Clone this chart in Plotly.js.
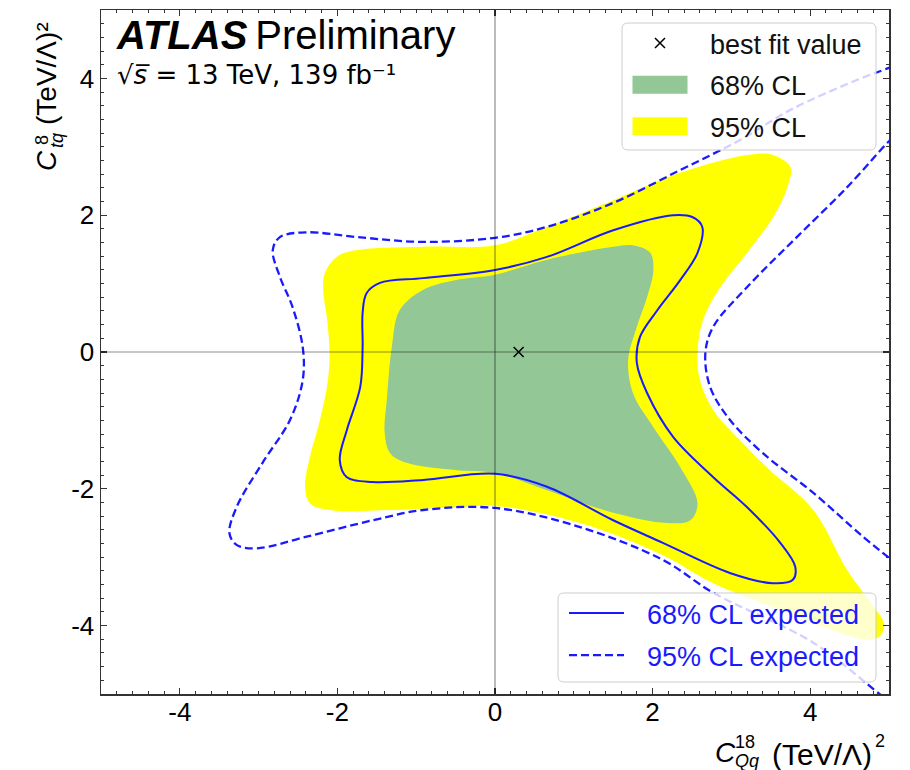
<!DOCTYPE html>
<html>
<head>
<meta charset="utf-8">
<script src="https://cdn.plot.ly/plotly-3.0.1.min.js"></script>
<style>html,body{margin:0;padding:0;background:#fff;}</style>
</head>
<body>
<div id="chart" style="width:910px;height:770px;"></div>
<script>
// ---- data ----
var xTickVals = [-4, -2, 0, 2, 4];
var xTickText = ['-4', '-2', '0', '2', '4'];
var yTickVals = [-4, -2, 0, 2, 4];
var yTickText = ['-4', '-2', '0', '2', '4'];

// 95% CL observed (yellow)
var obs95_x = [0, 0.66, 1.50, 2.35, 3.20, 3.53, 3.75, 3.71, 3.53, 3.20, 2.86, 2.64, 2.57, 2.60, 2.77, 3.11, 3.49, 4.04, 4.47, 4.79, 4.94, 4.89, 4.74, 4.38, 3.62, 2.77, 2.13, 1.08, 0, -0.48, -1.33, -2.10, -2.35, -2.41, -2.35, -2.22, -2.12, -2.10, -2.13, -2.18, -2.16, -2.01, -1.75, -0.91, 0];
var obs95_y = [1.56, 1.83, 2.22, 2.62, 2.88, 2.88, 2.70, 2.41, 1.97, 1.45, 0.95, 0.47, -0.01, -0.41, -0.85, -1.29, -1.73, -2.31, -3.19, -3.70, -3.98, -4.15, -4.21, -4.11, -3.77, -3.38, -2.97, -2.50, -2.25, -2.27, -2.31, -2.31, -2.21, -1.97, -1.54, -0.99, -0.41, -0.01, 0.47, 0.91, 1.15, 1.39, 1.49, 1.54, 1.56];

// 68% CL observed (green)
var obs68_x = [0, 0.66, 1.50, 1.75, 1.97, 2.01, 1.93, 1.80, 1.69, 1.75, 2.01, 2.35, 2.57, 2.48, 2.18, 1.50, 0.66, 0, -0.48, -1.12, -1.33, -1.40, -1.37, -1.31, -1.21, -0.91, -0.51, 0];
var obs68_y = [1.13, 1.35, 1.54, 1.56, 1.45, 1.20, 0.80, 0.37, -0.12, -0.60, -1.10, -1.68, -2.21, -2.46, -2.50, -2.35, -2.02, -1.77, -1.73, -1.62, -1.48, -1.18, -0.66, 0.07, 0.61, 0.91, 1.05, 1.13];

// 68% CL expected (solid blue)
var exp68_x = [0, 0.66, 1.50, 2.26, 2.51, 2.63, 2.57, 2.35, 2.06, 1.84, 1.80, 1.93, 2.26, 2.77, 3.20, 3.62, 3.81, 3.78, 3.53, 2.98, 2.13, 1.50, 0.66, 0, -0.91, -1.55, -1.88, -1.97, -1.88, -1.71, -1.68, -1.68, -1.63, -1.46, -0.91, 0];
var exp68_y = [1.20, 1.39, 1.78, 2.00, 1.97, 1.83, 1.45, 1.05, 0.61, 0.22, -0.16, -0.60, -1.24, -1.83, -2.27, -2.79, -3.14, -3.33, -3.38, -3.23, -2.79, -2.46, -1.97, -1.78, -1.87, -1.90, -1.83, -1.58, -1.14, -0.51, 0.07, 0.57, 0.86, 1.01, 1.08, 1.20];

// 95% CL expected (dashed blue), two visible pieces
var exp95_x = [5.05, 4.89, 4.04, 2.77, 2.13, 1.08, 0, -0.91, -1.55, -2.39, -3.02, -3.28, -3.37, -3.28, -2.95, -2.60, -2.44, -2.44, -2.57, -2.73, -2.82, -2.73, -2.39, -1.75, -0.91, 0, 0.66, 1.50, 2.35, 3.11, 3.75, 4.60, 4.99, 5.05, null,
               5.05, 4.99, 4.47, 3.83, 3.20, 2.77, 2.67, 2.73, 2.98, 3.40, 4.04, 4.67, 4.99, 5.05];
var exp95_y = [-5.15, -5.01, -4.25, -3.52, -3.04, -2.56, -2.28, -2.31, -2.46, -2.70, -2.87, -2.82, -2.65, -2.27, -1.62, -0.99, -0.41, 0.07, 0.66, 1.10, 1.49, 1.68, 1.75, 1.68, 1.61, 1.67, 1.83, 2.18, 2.66, 3.10, 3.54, 3.98, 4.15, 4.18, null,
               3.13, 3.07, 2.41, 1.68, 0.95, 0.37, -0.01, -0.51, -0.99, -1.48, -2.06, -2.70, -3.00, -3.05];

var bestfit_x = [0.30];
var bestfit_y = [0.0];

// ---- traces ----
var blue = '#1a1aff';
var traces = [
  {type:'scatter', x:obs95_x, y:obs95_y, mode:'lines', fill:'toself', fillcolor:'#ffff00',
   line:{width:0, shape:'spline', smoothing:1}, name:'95% CL', legend:'legend', legendrank:3, legendgroup:'g3', hoverinfo:'skip'},
  {type:'scatter', x:obs68_x, y:obs68_y, mode:'lines', fill:'toself', fillcolor:'#93c795',
   line:{width:0, shape:'spline', smoothing:1}, name:'68% CL', legend:'legend', legendrank:2, legendgroup:'g2', hoverinfo:'skip'},
  {type:'scatter', x:exp68_x, y:exp68_y, mode:'lines',
   line:{width:2, color:blue, shape:'spline', smoothing:1}, name:'68% CL expected', legend:'legend2', legendrank:1, legendgroup:'h1', hoverinfo:'skip'},
  {type:'scatter', x:exp95_x, y:exp95_y, mode:'lines', connectgaps:false,
   line:{width:2.3, color:blue, dash:'8px,4px', shape:'spline', smoothing:1}, name:'95% CL expected', legend:'legend2', legendrank:2, legendgroup:'h2', hoverinfo:'skip'},
  {type:'scatter', x:bestfit_x, y:bestfit_y, mode:'markers',
   marker:{symbol:'x-thin', size:10, color:'#000', line:{width:1.5, color:'#000'}}, name:'best fit value', legend:'legend', legendrank:1, legendgroup:'g1', hoverinfo:'skip'}
];

// ---- layout helpers (pixel -> paper) ----
var PL = 101, PR = 889, PT = 10, PB = 694;
function px(v){ return (v - PL) / (PR - PL); }
function py(v){ return (PB - v) / (PB - PT); }
function roundRect(x0, y0, x1, y1, r){
  var rx = r / (PR - PL), ry = r / (PB - PT);
  var a = px(x0), b = px(x1), top = py(y0), bot = py(y1);
  return 'M' + (a+rx) + ',' + top + ' L' + (b-rx) + ',' + top + ' Q' + b + ',' + top + ' ' + b + ',' + (top-ry) +
         ' L' + b + ',' + (bot+ry) + ' Q' + b + ',' + bot + ' ' + (b-rx) + ',' + bot +
         ' L' + (a+rx) + ',' + bot + ' Q' + a + ',' + bot + ' ' + a + ',' + (bot+ry) +
         ' L' + a + ',' + (top-ry) + ' Q' + a + ',' + top + ' ' + (a+rx) + ',' + top + ' Z';
}

var FONT = '"Liberation Sans", Arial, Helvetica, sans-serif';

function ann(text, x, y, size, opts){
  var a = {text:text, xref:'paper', yref:'paper', x:x, y:y, showarrow:false,
           xanchor:'center', yanchor:'middle', font:{family:FONT, size:size, color:'#000'}};
  for (var k in (opts||{})) a[k] = opts[k];
  return a;
}

var axisCommon = {
  range:[-5, 5], autorange:false, tickmode:'array',
  ticks:'inside', ticklen:6, tickwidth:1.2, tickcolor:'#333',
  showline:true, linecolor:'#333', linewidth:1.5, mirror:'allticks',
  showgrid:false, zeroline:false,
  tickfont:{family:FONT, size:26, color:'#000'},
  minor:{dtick:0.2, tick0:0, ticks:'inside', ticklen:3, tickwidth:1, tickcolor:'#333', showgrid:false}
};
var xaxis = Object.assign({}, axisCommon, {tickvals:xTickVals, ticktext:xTickText, ticklabelstandoff:-6});
var yaxis = Object.assign({}, axisCommon, {tickvals:yTickVals, ticktext:yTickText});

var headerText = '<span style="font-size:40px"><b><i>ATLAS</i></b>\u2009Preliminary</span><br>' +
                 '<span style="font-family:DejaVu Sans;font-size:26px">√<i>s\u0305</i> = 13 TeV, 139 fb\u207B\u00B9</span>';

var layout = {
  width:910, height:770,
  margin:{l:PL, r:910-PR, t:PT, b:770-PB, pad:0},
  paper_bgcolor:'#fff', plot_bgcolor:'#fff',
  font:{family:FONT, color:'#000'},
  xaxis:xaxis, yaxis:yaxis,
  showlegend:true,
  legend:{x:px(610), xanchor:'left', y:py(19), yanchor:'top', bgcolor:'rgba(0,0,0,0)', borderwidth:0,
          font:{family:FONT, size:27, color:'#111'}, itemwidth:90, traceorder:'grouped', tracegroupgap:3.5},
  legend2:{x:px(547), xanchor:'left', y:py(589), yanchor:'top', bgcolor:'rgba(0,0,0,0)', borderwidth:0,
          font:{family:FONT, size:27, color:blue}, itemwidth:90, traceorder:'grouped', tracegroupgap:4},
  shapes:[
    {type:'line', xref:'x', yref:'paper', x0:0, x1:0, y0:0, y1:1, layer:'above', line:{color:'rgba(0,0,0,0.45)', width:1.2}},
    {type:'line', xref:'paper', yref:'y', x0:0, x1:1, y0:0, y1:0, layer:'above', line:{color:'rgba(0,0,0,0.45)', width:1.2}},
    {type:'path', xref:'paper', yref:'paper', path:roundRect(622, 23, 876, 150, 6), layer:'above',
     fillcolor:'rgba(255,255,255,0.8)', line:{color:'rgba(200,200,200,0.9)', width:1}},
    {type:'path', xref:'paper', yref:'paper', path:roundRect(558, 593, 876, 682, 6), layer:'above',
     fillcolor:'rgba(255,255,255,0.8)', line:{color:'rgba(200,200,200,0.9)', width:1}}
  ],
  annotations:[
    ann(headerText, px(114), py(11), 27, {xanchor:'left', yanchor:'top', align:'left'}),
    // x-axis title
    ann('<i>C</i>', px(725), py(752), 28),
    ann('18', px(745), py(742), 18),
    ann('<i>Qq</i>', px(747), py(761), 18),
    ann('(TeV/Λ)', px(874), py(754), 30, {xanchor:'right'}),
    ann('2', px(880), py(741), 18),
    // y-axis title (rotated)
    ann('<i>C</i>', px(47), py(161), 28, {textangle:-90}),
    ann('8', px(42), py(140), 18, {textangle:-90}),
    ann('<i>tq</i>', px(57), py(141), 18, {textangle:-90}),
    ann('(TeV/Λ)\u00B2', px(46), py(74), 28, {textangle:-90})
  ]
};

var gd = document.getElementById('chart');
Plotly.newPlot(gd, traces, layout, {displayModeBar:false, staticPlot:true}).then(function(){
  // enlarge legend swatches to match the reference style
  gd.querySelectorAll('.legendfill path').forEach(function(p){ p.setAttribute('d', 'M22.5,-9h55v18h-55z'); });
  gd.querySelectorAll('.legendlines path').forEach(function(p){ p.setAttribute('d', 'M22,0h55'); });
});
</script>
</body>
</html>
